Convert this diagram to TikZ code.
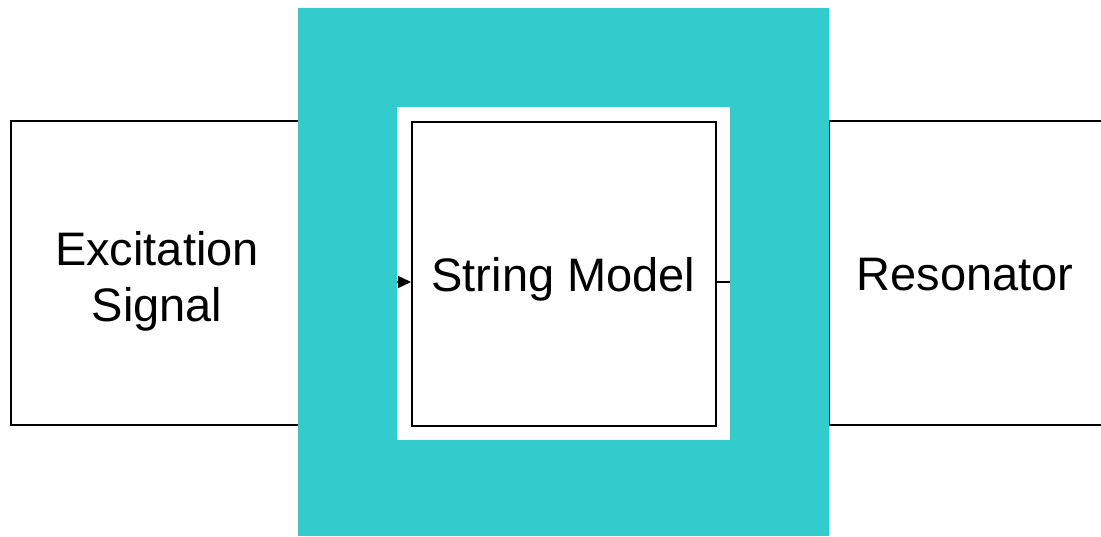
\documentclass[tikz,border=0pt]{standalone}
\usepackage{fontspec}
\setmainfont{Liberation Sans}
\usetikzlibrary{arrows.meta}
\definecolor{teal1}{HTML}{33CCCC}
\begin{document}
\begin{tikzpicture}[x=1pt,y=-1pt,
  blk/.style={draw=black,line width=1.5pt,fill=white},
  lbl/.style={font=\fontsize{47}{56}\selectfont,align=center,inner sep=0pt}]
\useasboundingbox (0,0) rectangle (1101,536);
% outer boxes
\draw[blk] (1200,121) -- (829,121) -- (829,425) -- (1200,425);
\draw[blk] (11,121) rectangle (320,425);
\clip (0,0) rectangle (1101,536);
% teal frame
\fill[teal1] (298,8) rectangle (829,536);
\fill[white] (397,107) rectangle (730,440);
% inner box
\node[blk,minimum width=304pt,minimum height=304pt,anchor=north west,inner sep=0pt] (sm) at (411,121) {};
\node[lbl,anchor=base] at (563.5,291) {String Model};
\node[lbl] (ex) at (157,281) {Excitation\\Signal};
\node[lbl,anchor=base] (res) at (965,290) {Resonator};
\coordinate (ain) at (397,282);
\coordinate (aout) at (730,282);
\draw[line width=1.5pt,-{Triangle[length=13pt,width=12pt]}] (ain) -- (ain -| sm.west);
\draw[line width=1.5pt] (aout -| sm.east) -- (aout);
\end{tikzpicture}
\end{document}
